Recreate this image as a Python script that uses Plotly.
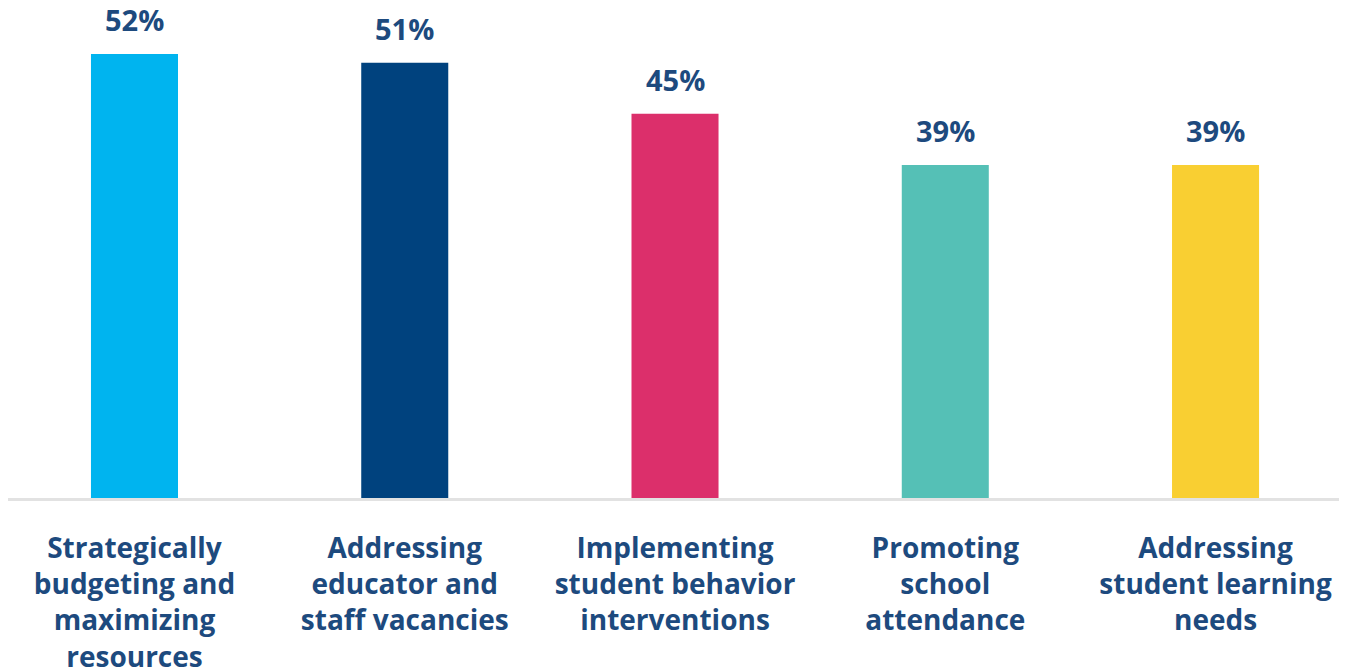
import plotly.graph_objects as go

categories = [
    "Strategically<br>budgeting and<br>maximizing<br>resources",
    "Addressing<br>educator and<br>staff vacancies",
    "Implementing<br>student behavior<br>interventions",
    "Promoting<br>school<br>attendance",
    "Addressing<br>student learning<br>needs",
]
values = [52, 51, 45, 39, 39]
labels = ["52%", "51%", "45%", "39%", "39%"]
colors = ["#00B4EF", "#00427E", "#DC2F6B", "#55C0B6", "#F9CF32"]

text_color = "#1D4A7E"
font_family = "Open Sans"

fig = go.Figure(go.Bar(
    x=categories,
    y=values,
    width=0.322,
    marker_color=colors,
    marker_line_width=0,
    hoverinfo="skip",
))

for cat, val, lab in zip(categories, values, labels):
    fig.add_annotation(
        x=cat, y=val, text=f"<b>{lab}</b>",
        showarrow=False, yanchor="bottom", yshift=13,
        font=dict(size=29, color=text_color, family=font_family),
    )

# the page body adds an 8px offset, so the plot area is laid out 8px up/left
fig.update_layout(
    width=1347,
    height=671,
    margin=dict(l=0, r=0, t=0, b=181, autoexpand=False),
    plot_bgcolor="white",
    paper_bgcolor="white",
    showlegend=False,
    font=dict(family=font_family, color=text_color),
    xaxis=dict(
        range=[-0.468, 4.516],
        automargin=False,
        showline=True,
        linecolor="#E2E2E2",
        linewidth=3,
        showgrid=False,
        ticks="outside",
        ticklen=23,
        tickcolor="rgba(0,0,0,0)",
        tickfont=dict(size=28, color=text_color, family=font_family + ", sans-serif", weight="bold"),
        tickangle=0,
    ),
    yaxis=dict(
        range=[0, 57.4],
        visible=False,
        showgrid=False,
        zeroline=False,
    ),
)

fig.write_html("out.html")
